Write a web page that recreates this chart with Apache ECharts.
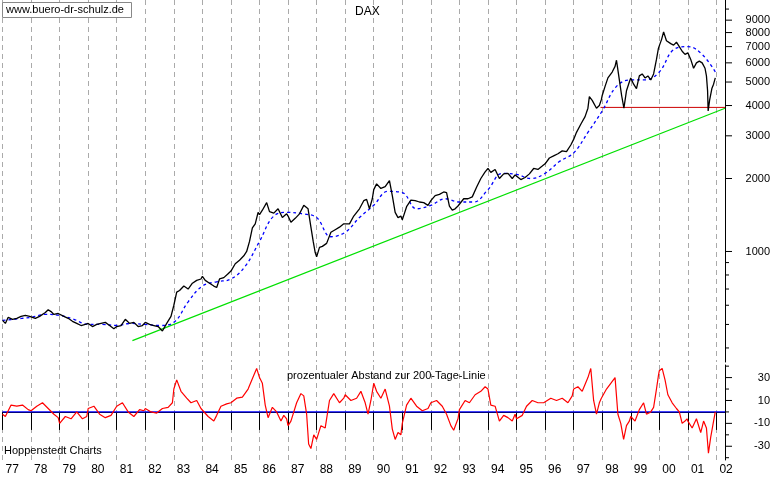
<!DOCTYPE html>
<html><head><meta charset="utf-8">
<script src="https://cdn.jsdelivr.net/npm/echarts@6/dist/echarts.min.js"></script>
<style>html,body{margin:0;padding:0;background:#fff}#c{width:773px;height:478px}</style>
</head><body><div id="c"></div>
<script>
const dax = [
[1977.0,520],[1977.1,505],[1977.2,535],[1977.35,525],[1977.5,530],[1977.65,540],[1977.8,545],[1977.95,540],
[1978.0,535],[1978.15,530],[1978.3,540],[1978.5,560],[1978.6,575],[1978.7,565],[1978.8,550],[1978.95,555],
[1979.0,560],[1979.15,540],[1979.3,530],[1979.45,515],[1979.6,505],[1979.75,495],[1979.9,500],
[1980.0,505],[1980.15,490],[1980.3,500],[1980.45,505],[1980.6,510],[1980.75,495],[1980.9,480],
[1981.0,490],[1981.15,495],[1981.3,525],[1981.45,505],[1981.6,510],[1981.75,490],[1981.9,495],
[1982.0,510],[1982.15,500],[1982.3,495],[1982.45,490],[1982.6,470],[1982.75,505],[1982.9,540],
[1983.0,600],[1983.1,680],[1983.2,690],[1983.35,720],[1983.5,700],[1983.65,740],[1983.8,760],[1983.95,770],
[1984.0,790],[1984.1,760],[1984.25,740],[1984.4,720],[1984.5,710],[1984.6,770],[1984.75,780],[1984.9,810],
[1985.0,830],[1985.15,890],[1985.3,920],[1985.45,960],[1985.55,1000],[1985.65,1100],[1985.75,1250],[1985.85,1300],[1985.95,1450],
[1986.0,1420],[1986.1,1480],[1986.25,1590],[1986.35,1460],[1986.5,1440],[1986.65,1500],[1986.8,1380],[1986.95,1430],
[1987.0,1400],[1987.1,1320],[1987.25,1370],[1987.4,1430],[1987.55,1550],[1987.7,1500],[1987.8,1260],[1987.88,1100],[1987.95,990],
[1988.0,950],[1988.1,1040],[1988.2,1050],[1988.35,1080],[1988.5,1200],[1988.65,1230],[1988.8,1260],[1988.95,1300],
[1989.0,1320],[1989.15,1300],[1989.3,1400],[1989.5,1500],[1989.65,1620],[1989.75,1640],[1989.85,1500],[1989.95,1650],
[1990.0,1800],[1990.1,1900],[1990.25,1820],[1990.4,1850],[1990.55,1960],[1990.65,1700],[1990.75,1450],[1990.85,1380],[1990.95,1400],
[1991.0,1350],[1991.15,1530],[1991.3,1630],[1991.45,1620],[1991.6,1600],[1991.75,1590],[1991.9,1550],
[1992.0,1620],[1992.15,1700],[1992.3,1720],[1992.45,1760],[1992.55,1750],[1992.65,1540],[1992.75,1480],[1992.85,1500],[1992.95,1540],
[1993.0,1550],[1993.15,1650],[1993.3,1650],[1993.45,1680],[1993.6,1840],[1993.75,2000],[1993.9,2130],
[1994.0,2200],[1994.1,2120],[1994.25,2180],[1994.4,2000],[1994.55,2090],[1994.7,2100],[1994.85,2000],[1994.95,2070],
[1995.0,2050],[1995.15,1980],[1995.3,2020],[1995.45,2090],[1995.6,2200],[1995.75,2180],[1995.9,2250],
[1996.0,2300],[1996.15,2430],[1996.3,2480],[1996.45,2530],[1996.6,2600],[1996.75,2580],[1996.9,2750],
[1997.0,2900],[1997.1,3100],[1997.25,3350],[1997.4,3600],[1997.5,3900],[1997.55,4350],[1997.65,4200],[1997.8,3900],[1997.9,4000],[1997.97,4230],
[1998.0,4400],[1998.1,4800],[1998.2,5200],[1998.35,5500],[1998.45,5800],[1998.5,6150],[1998.58,5300],[1998.68,4400],[1998.76,3900],[1998.85,4600],[1998.95,5000],
[1999.0,5200],[1999.1,4900],[1999.2,4700],[1999.3,5300],[1999.4,5400],[1999.5,5200],[1999.6,5300],[1999.7,5100],[1999.8,5400],[1999.9,6200],[1999.97,6900],
[2000.0,7000],[2000.08,7500],[2000.15,8050],[2000.25,7400],[2000.4,7200],[2000.5,7100],[2000.6,7300],[2000.7,7000],[2000.8,6700],[2000.9,6500],[2000.97,6400],
[2001.0,6600],[2001.1,6200],[2001.2,5700],[2001.3,6000],[2001.4,6100],[2001.5,6000],[2001.6,5700],[2001.65,5300],[2001.69,4600],[2001.71,3800],[2001.76,4200],[2001.84,4700],[2001.9,4900],[2001.96,5200]
];
const ma200 = [
[1977,520],[1978,535],[1978.5,550],[1979,545],[1979.5,525],[1980,500],[1980.5,500],[1981,495],[1981.5,505],[1982,500],[1982.5,495],[1983,510],[1983.5,620],[1984,720],[1984.5,750],[1985,770],[1985.5,870],[1986,1100],[1986.5,1400],[1987,1450],[1987.5,1430],[1988,1380],[1988.5,1150],[1989,1200],[1989.5,1380],[1990,1550],[1990.5,1770],[1991,1750],[1991.5,1500],[1992,1550],[1992.5,1650],[1993,1600],[1993.5,1600],[1994,1800],[1994.5,2100],[1995,2080],[1995.5,2000],[1996,2100],[1996.5,2350],[1997,2550],[1997.5,3100],[1998,3800],[1998.5,4800],[1999,5100],[1999.5,5100],[2000,5500],[2000.5,6800],[2001,7000],[2001.5,6500],[2001.96,5500]
];
const trendLine = [[1981.55,429],[2002.3,3900]];
const supportLine = [[1997.94,3930],[2002.3,3930]];
const osc = [
[1977.0,-2],[1977.1,-4],[1977.3,6],[1977.5,5],[1977.7,6],[1977.9,2],
[1978.0,1],[1978.2,5],[1978.4,8],[1978.6,3],[1978.8,-2],[1978.95,-5],
[1979.0,-10],[1979.2,-4],[1979.4,-6],[1979.6,0],[1979.8,-6],[1979.95,-4],
[1980.0,3],[1980.2,5],[1980.4,-2],[1980.6,-5],[1980.8,-3],[1980.95,3],
[1981.0,5],[1981.2,8],[1981.4,0],[1981.6,-4],[1981.8,2],[1981.95,1],
[1982.0,3],[1982.2,0],[1982.4,-1],[1982.6,3],[1982.8,4],[1982.95,8],
[1983.0,20],[1983.1,28],[1983.25,18],[1983.45,12],[1983.6,8],[1983.8,10],[1983.95,3],
[1984.0,2],[1984.2,-4],[1984.4,-8],[1984.5,-3],[1984.65,5],[1984.85,7],
[1985.0,8],[1985.2,12],[1985.4,13],[1985.6,20],[1985.8,32],[1985.9,38],
[1986.0,30],[1986.1,25],[1986.2,6],[1986.3,-5],[1986.45,4],[1986.6,0],[1986.75,-8],[1986.85,-3],[1986.95,-6],
[1987.0,-12],[1987.1,-8],[1987.3,8],[1987.45,16],[1987.55,14],[1987.65,-2],[1987.72,-28],[1987.8,-32],[1987.9,-20],
[1988.0,-24],[1988.15,-12],[1988.3,-14],[1988.45,10],[1988.6,16],[1988.8,8],[1988.95,12],
[1989.0,15],[1989.2,10],[1989.4,12],[1989.55,18],[1989.7,8],[1989.8,-2],[1989.9,10],
[1990.0,25],[1990.1,18],[1990.25,12],[1990.4,20],[1990.55,5],[1990.65,-15],[1990.75,-24],[1990.85,-18],[1990.95,-20],
[1991.0,-10],[1991.15,6],[1991.3,12],[1991.5,5],[1991.7,1],[1991.9,3],
[1992.0,8],[1992.2,10],[1992.4,5],[1992.55,-2],[1992.7,-12],[1992.8,-16],[1992.95,-6],
[1993.0,2],[1993.2,10],[1993.35,8],[1993.55,15],[1993.75,18],[1993.9,22],
[1994.0,20],[1994.1,6],[1994.25,5],[1994.4,-8],[1994.55,-3],[1994.7,-5],[1994.85,-8],[1994.95,-2],
[1995.0,-6],[1995.2,-3],[1995.35,5],[1995.55,10],[1995.75,8],[1995.95,8],
[1996.0,8],[1996.2,12],[1996.4,10],[1996.6,12],[1996.8,8],[1996.95,14],
[1997.0,20],[1997.15,22],[1997.3,18],[1997.5,30],[1997.6,38],[1997.7,10],[1997.8,-2],[1997.9,8],[1997.97,12],
[1998.0,12],[1998.15,20],[1998.3,25],[1998.45,30],[1998.55,-2],[1998.65,-10],[1998.75,-24],[1998.85,-12],[1998.95,-8],
[1999.0,-4],[1999.15,-8],[1999.3,2],[1999.45,8],[1999.55,-2],[1999.7,0],[1999.8,4],[1999.9,20],[1999.97,32],
[2000.0,36],[2000.1,38],[2000.2,28],[2000.3,15],[2000.45,8],[2000.6,3],[2000.7,0],[2000.8,-10],[2000.9,-8],[2000.97,-6],
[2001.0,-8],[2001.15,-14],[2001.3,-6],[2001.45,-18],[2001.55,-8],[2001.65,-14],[2001.72,-36],[2001.8,-22],[2001.9,-8],[2001.96,0]
];
const upperTickLabels = [1000,2000,3000,4000,5000,6000,7000,8000,9000];
const upperMinorTicks = [400,500,600,700,800,900,10000];
const lowerTickLabels = [30,10,-10,-30];
const lowerMinorTicks = [40,20,0,-20,-40];

const XMAX = 2002.3;
function labelSeries(gridIdx, labels, minors){
  const pts = labels.map(v=>[XMAX,v,1]).concat(minors.map(v=>[XMAX,v,0]));
  return {type:'custom', xAxisIndex:gridIdx, yAxisIndex:gridIdx, clip:false, silent:true, z:5,
    data:pts,
    renderItem:function(params, api){
      const p = api.coord([api.value(0), api.value(1)]);
      const major = api.value(2)===1;
      const children = [{type:'line', shape:{x1:p[0], y1:p[1], x2:p[0]+(major?7:4), y2:p[1]}, style:{stroke:'#000', lineWidth:1}}];
      if (major) children.push({type:'text', x:p[0]+45, y:p[1], style:{text:String(labels[params.dataIndex]), fill:'#000', font:'11px Arial, "Liberation Sans", sans-serif', align:'right', verticalAlign:'middle'}});
      return {type:'group', children:children};
    }};
}

const chart = echarts.init(document.getElementById('c'), null, {renderer:'canvas'});
const xBase = {type:'value', min:1977, max:XMAX, interval:1,
  splitLine:{show:true, lineStyle:{color:'#aaa', type:[5,4], width:1}},
  axisLine:{show:false}, axisTick:{show:false}, axisLabel:{show:false}};
chart.setOption({
  animation:false, backgroundColor:'#fff',
  grid:[{left:2.5, right:48, top:0, height:362},{left:2.5, right:48, top:365, height:95}],
  xAxis:[Object.assign({gridIndex:0}, xBase),
    Object.assign({}, xBase, {gridIndex:1,
      axisLine:{show:true, lineStyle:{color:'#000'}},
      axisTick:{show:true, length:18, lineStyle:{color:'#000'}},
      axisLabel:{show:true, align:'left', margin:4, padding:[0,0,0,3], color:'#000', fontSize:12,
        fontFamily:'Arial, "Liberation Sans", sans-serif',
        formatter:v=>String(Math.round(v)%100).padStart(2,'0')}})],
  yAxis:[{gridIndex:0, type:'log', logBase:10, min:350, max:10900, position:'right',
      splitLine:{show:false}, axisTick:{show:false}, axisLabel:{show:false}, minorTick:{show:false},
      axisLine:{show:true, lineStyle:{color:'#000'}}},
    {gridIndex:1, type:'value', min:-42, max:41, position:'right',
      splitLine:{show:false}, axisTick:{show:false}, axisLabel:{show:false},
      axisLine:{show:true, lineStyle:{color:'#000'}}}],
  graphic:[
    {type:'rect', left:2, top:2, shape:{width:129, height:15}, style:{fill:'#fff', stroke:'#888'}, z:10},
    {type:'text', left:6, top:4, style:{text:'www.buero-dr-schulz.de', fill:'#000', font:'11px Arial, "Liberation Sans", sans-serif'}, z:11},
    {type:'text', left:355, top:6, style:{text:'DAX', fill:'#000', font:'12px Arial, "Liberation Sans", sans-serif'}, z:11},
    {type:'text', left:287, top:370, style:{text:'prozentualer Abstand zur 200-Tage-Linie', fill:'#000', font:'11px Arial, "Liberation Sans", sans-serif'}, z:11},
    {type:'text', left:4, top:445, style:{text:'Hoppenstedt Charts', fill:'#000', font:'11px Arial, "Liberation Sans", sans-serif'}, z:11}
  ],
  series:[
    {type:'line', xAxisIndex:0, yAxisIndex:0, data:trendLine, symbol:'none', lineStyle:{color:'#00e000', width:1.2}},
    {type:'line', xAxisIndex:0, yAxisIndex:0, data:supportLine, symbol:'none', lineStyle:{color:'#cc0000', width:1}},
    {type:'line', xAxisIndex:0, yAxisIndex:0, data:ma200, symbol:'none', smooth:0.4, lineStyle:{color:'#0000ff', width:1.3, type:[3,3]}},
    {type:'line', xAxisIndex:0, yAxisIndex:0, data:dax, symbol:'none', lineStyle:{color:'#000', width:1.3}},
    {type:'line', xAxisIndex:1, yAxisIndex:1, data:[[1977,0],[XMAX,0]], symbol:'none', lineStyle:{color:'#0000ff', width:1.2}},
    {type:'line', xAxisIndex:1, yAxisIndex:1, data:osc, symbol:'none', lineStyle:{color:'#ff0000', width:1.2}},
    labelSeries(0, upperTickLabels, upperMinorTicks),
    labelSeries(1, lowerTickLabels, lowerMinorTicks)
  ]
});
</script></body></html>
